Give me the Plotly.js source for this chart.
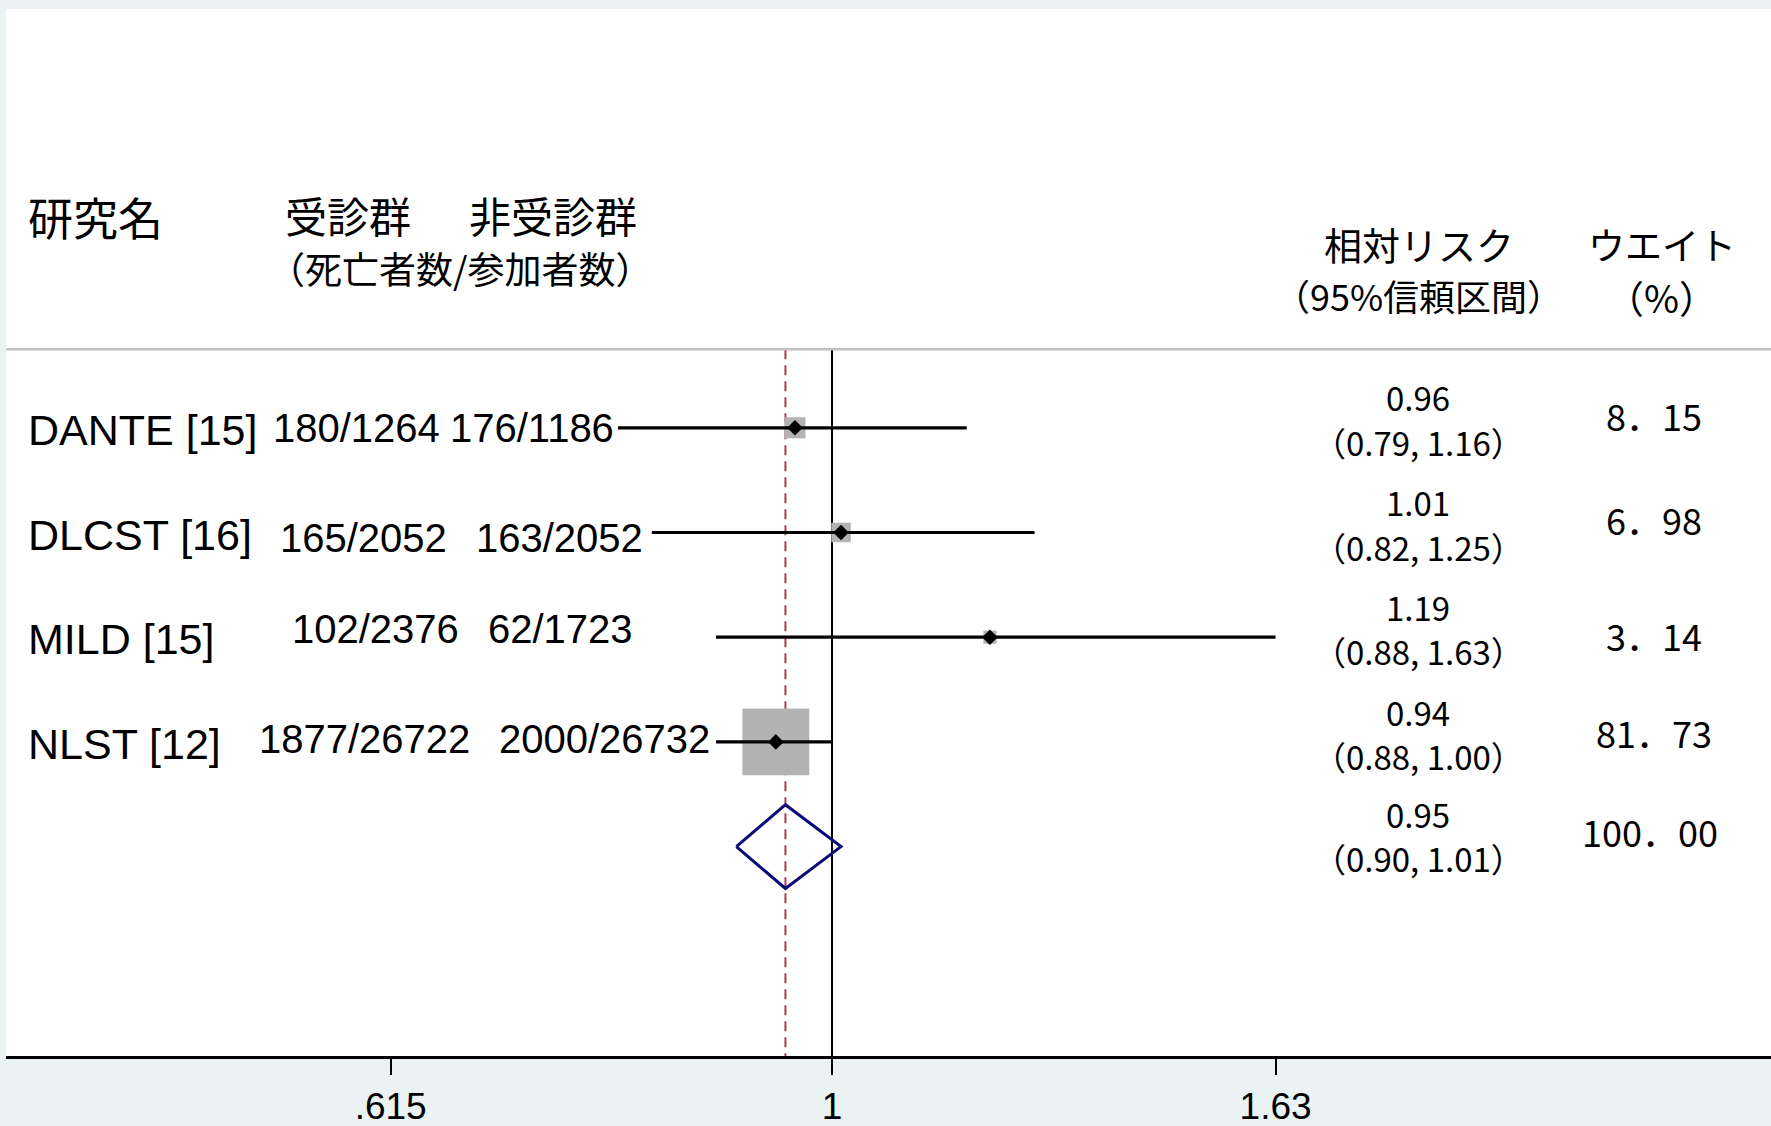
<!DOCTYPE html>
<html>
<head>
<meta charset="utf-8">
<script src="https://cdn.plot.ly/plotly-3.0.1.min.js"></script>
<style>
  html, body { margin: 0; padding: 0; background: #eaf2f3; }
  #chart { width: 1771px; height: 1126px; }
</style>
</head>
<body>
<div id="chart"></div>
<script>
// ---------------- DATA ----------------
const studies    = ["DANTE [15]", "DLCST [16]", "MILD [15]", "NLST [12]"];
const screened   = ["180/1264", "165/2052", "102/2376", "1877/26722"];
const unscreened = ["176/1186", "163/2052", "62/1723", "2000/26732"];
const rr         = [0.96, 1.01, 1.19, 0.94];
const lower      = [0.79, 0.82, 0.88, 0.88];
const upper      = [1.16, 1.25, 1.63, 1.00];
const weights    = [8.15, 6.98, 3.14, 81.73];
const pooledRR     = 0.95;
const pooledLower  = 0.90;
const pooledUpper  = 1.01;
const pooledWeight = 100.00;
const tickVals  = [0.615, 1, 1.63];
const tickText  = [".615", "1", "1.63"];
const headerStudy   = "研究名";
const headerGroupA  = "受診群";
const headerGroupB  = "非受診群";
const headerGroups2 = "（死亡者数/参加者数）";
const headerRR      = "相対リスク";
const headerRR2     = "（95%信頼区間）";
const headerW       = "ウエイト";
const headerW2      = "（%）";

// ---------------- LAYOUT CONSTANTS ----------------
const W = 1771, H = 1126;
const mL = 6, mR = 0, mT = 9, mB = 70;
const plotW = W - mL - mR;
const px = v => (v - mL) / plotW;          // pixel x -> paper x
const rows = studies.map((_, i) => i + 1);
const pooledRow = studies.length + 1;
const lineTop = 0.25, yBottom = 7, yTop = -3;
// left edges (pixels) of the two count columns, per row, and vertical nudges
const countX = [[271, 448], [278, 474], [290, 486], [257, 497]];
const countDy = [0.0, 0.05, -0.08, -0.03];
const weightDy = [-0.12, -0.13, -0.02, -0.09];
const boxScale = 7.4;
const latin = "Liberation Sans, Arial, sans-serif";
const cjk = "Noto Sans CJK JP, sans-serif";

const traces = [];

// reference line at 1
traces.push({x: [1, 1], y: [lineTop, yBottom], mode: "lines",
  line: {color: "#000", width: 2}, hoverinfo: "skip", showlegend: false});
// pooled estimate dashed line
traces.push({x: [pooledRR, pooledRR], y: [lineTop, yBottom], mode: "lines",
  line: {color: "#a8404c", width: 2, dash: "10px,6px"}, hoverinfo: "skip", showlegend: false});

// weight boxes
traces.push({x: rr, y: rows, mode: "markers",
  marker: {symbol: "square", size: weights.map(w => boxScale * Math.sqrt(w)),
           color: "#b3b3b3", opacity: 1, line: {width: 0}},
  hoverinfo: "skip", showlegend: false});

// CI lines
const ciX = [], ciY = [];
rows.forEach((r, i) => { ciX.push(lower[i], upper[i], null); ciY.push(r, r, null); });
traces.push({x: ciX, y: ciY, mode: "lines", line: {color: "#000", width: 3.2},
  hoverinfo: "skip", showlegend: false});

// point estimates
traces.push({x: rr, y: rows, mode: "markers",
  marker: {symbol: "diamond", size: 12, color: "#000", opacity: 1},
  hoverinfo: "skip", showlegend: false});

// pooled diamond
const dh = 0.4;
traces.push({x: [pooledLower, pooledRR, pooledUpper, pooledRR, pooledLower],
  y: [pooledRow, pooledRow - dh, pooledRow, pooledRow + dh, pooledRow],
  mode: "lines", line: {color: "#0a0a78", width: 3}, hoverinfo: "skip", showlegend: false});

// ---------------- ANNOTATIONS ----------------
const ann = [];
const txt = (text, x, y, size, family, anchor) => ({
  text: text, xref: "paper", yref: "y", x: px(x), y: y,
  xanchor: anchor || "center", yanchor: "middle", showarrow: false,
  font: {size: size, family: family, color: "#000"}
});

ann.push(txt(headerStudy, 26, -1.02, 45, cjk, "left"));
ann.push(txt(headerGroupA, 283, -1.04, 42, cjk, "left"));
ann.push(txt(headerGroupB, 467, -1.04, 42, cjk, "left"));
ann.push(txt(headerGroups2, 266, -0.53, 37, cjk, "left"));
ann.push(txt(headerRR, 1419, -0.76, 38, cjk));
ann.push(txt(headerRR2, 1418, -0.27, 36, cjk));
ann.push(txt(headerW, 1662, -0.76, 37, cjk));
ann.push(txt(headerW2, 1661, -0.25, 38, cjk));

const fmtW = w => w.toFixed(2).replace(".", "．");
const fmtCI = (l, u) => "（" + l.toFixed(2) + ", " + u.toFixed(2) + "）";

rows.forEach((r, i) => {
  ann.push(txt(studies[i], 26, r + 0.02, 43, latin, "left"));
  ann.push(txt(screened[i], countX[i][0], r + countDy[i], 40, latin, "left"));
  ann.push(txt(unscreened[i], countX[i][1], r + countDy[i], 40, latin, "left"));
  ann.push(txt(rr[i].toFixed(2), 1418, r - 0.29, 33, cjk));
  ann.push(txt(fmtCI(lower[i], upper[i]), 1418, r + 0.135, 33, cjk));
  ann.push(txt(fmtW(weights[i]), 1654, r + weightDy[i], 36, cjk));
});
ann.push(txt(pooledRR.toFixed(2), 1418, pooledRow - 0.31, 33, cjk));
ann.push(txt(fmtCI(pooledLower, pooledUpper), 1418, pooledRow + 0.11, 33, cjk));
ann.push(txt(fmtW(pooledWeight), 1650, pooledRow - 0.15, 36, cjk));

const layout = {
  width: W, height: H,
  margin: {l: mL, r: mR, t: mT, b: mB, pad: 0},
  paper_bgcolor: "#eaf2f3",
  plot_bgcolor: "#ffffff",
  showlegend: false,
  hovermode: false,
  xaxis: {
    type: "log",
    range: [Math.log10(0.4026), Math.log10(2.813)],
    tickvals: tickVals, ticktext: tickText,
    ticks: "outside", ticklen: 16, tickwidth: 2, tickcolor: "#000",
    showline: true, linecolor: "#000", linewidth: 3,
    showgrid: false, zeroline: false,
    tickfont: {size: 37, family: latin, color: "#000"},
    fixedrange: true
  },
  yaxis: {
    range: [yBottom, yTop],
    visible: false, showgrid: false, zeroline: false, fixedrange: true
  },
  shapes: [
    {type: "line", xref: "paper", yref: "y", x0: 0, x1: 1, y0: lineTop, y1: lineTop,
     line: {color: "#c0c0c0", width: 2.5}}
  ],
  annotations: ann
};

Plotly.newPlot("chart", traces, layout, {displayModeBar: false, staticPlot: true});
</script>
</body>
</html>
